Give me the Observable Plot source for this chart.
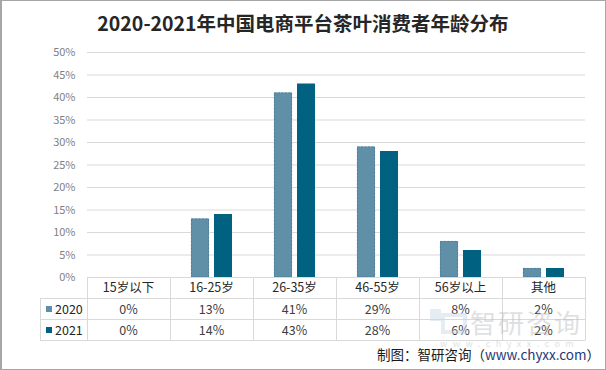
<!DOCTYPE html>
<html>
<head>
<meta charset="utf-8">
<script src="https://cdn.jsdelivr.net/npm/d3@7"></script>
<script src="https://cdn.jsdelivr.net/npm/@observablehq/plot@0.6"></script>
<style>
  html, body { margin: 0; padding: 0; background: #fff; }
  #wrap { position: relative; width: 606px; height: 370px; overflow: hidden; font-family: "Noto Sans CJK SC", "Noto Sans", sans-serif; }
  #border { position: absolute; left: 0; top: 0; width: 606px; height: 370px; box-sizing: border-box; border: 1px solid #a6a6a6; border-left-width: 2px; pointer-events: none; }
  #title { position: absolute; left: 0; top: 8px; width: 606px; text-align: center; font-size: 19.5px; font-weight: 700; color: #262626; line-height: 30px; letter-spacing: 0px; }
  #chart { position: absolute; left: 0; top: 0; }
</style>
</head>
<body>
<div id="wrap">
  <div id="chart"></div>
  <div id="title">2020-2021年中国电商平台茶叶消费者年龄分布</div>
  <div id="border"></div>
</div>
<script>
const categories = ["15岁以下", "16-25岁", "26-35岁", "46-55岁", "56岁以上", "其他"];
const years = ["2020", "2021"];
const values2020 = [0, 13, 41, 29, 8, 2];
const values2021 = [0, 14, 43, 28, 6, 2];
const yTicks = [0, 5, 10, 15, 20, 25, 30, 35, 40, 45, 50];
const colors = ["#6090a8", "#006181"];
const creditPrefix = "制图：智研咨询（";
const creditUrl = "www.chyxx.com";
const creditSuffix = "）";

const data = [];
categories.forEach((c, i) => {
  data.push({category: c, year: years[0], value: values2020[i]});
  data.push({category: c, year: years[1], value: values2021[i]});
});
const seriesValues = [values2020, values2021];

const font = '"Noto Sans CJK SC", "Noto Sans", sans-serif';

const chart = Plot.plot({
  width: 606,
  height: 370,
  marginTop: 52,
  marginBottom: 93,
  marginLeft: 86,
  marginRight: 20,
  style: {fontFamily: font, fontSize: "11px", background: "transparent", overflow: "visible"},
  fx: {domain: categories, padding: 0, axis: null},
  x: {domain: years, paddingInner: 0.2, paddingOuter: 0.85, axis: null},
  y: {domain: [0, 50]},
  color: {domain: years, range: colors},
  marks: [
    Plot.gridY(yTicks, {stroke: "#d9d9d9", strokeOpacity: 1, strokeWidth: 1}),
    Plot.axisY(yTicks, {tickFormat: d => d + "%", tickSize: 0, tickPadding: 12, fill: "#7f7f7f", fontSize: 11, label: null}),
    Plot.barY(data, {fx: "category", x: "year", y: "value", fill: "year"}),
    Plot.barY(data.filter(d => d.year === years[0]), {fx: "category", x: "year", y: "value", fill: "none", stroke: "#4d7a93", strokeWidth: 0.8, strokeDasharray: "2,1.5", inset: 0.4})
  ]
});
document.getElementById("chart").appendChild(chart);

// Data table under the chart, aligned with the fx band scale
const fx = chart.scale("fx");
const svg = d3.select(chart);
const g = svg.append("g").attr("font-family", font).attr("text-anchor", "start");
const bw = fx.bandwidth;
const x0 = fx.apply(categories[0]);
const x1 = fx.apply(categories[categories.length - 1]) + bw;
const legendLeft = 40;
const rows = [277, 298.5, 319.5, 340.5];
const lineColor = "#d9d9d9";

// horizontal lines
g.append("line").attr("x1", x0).attr("x2", x1).attr("y1", 277.5).attr("y2", 277.5).attr("stroke", lineColor);
[rows[1], rows[2], rows[3]].forEach(y => {
  g.append("line").attr("x1", legendLeft).attr("x2", x1).attr("y1", y).attr("y2", y).attr("stroke", lineColor);
});
// vertical lines
categories.forEach(c => {
  const x = Math.round(fx.apply(c)) + 0.5;
  g.append("line").attr("x1", x).attr("x2", x).attr("y1", 277).attr("y2", rows[3]).attr("stroke", lineColor);
});
g.append("line").attr("x1", Math.round(x1) + 0.5).attr("x2", Math.round(x1) + 0.5).attr("y1", 277).attr("y2", rows[3]).attr("stroke", lineColor);
g.append("line").attr("x1", legendLeft + 0.5).attr("x2", legendLeft + 0.5).attr("y1", rows[1]).attr("y2", rows[3]).attr("stroke", lineColor);

// header
categories.forEach(c => {
  g.append("text").attr("x", fx.apply(c) + bw / 2).attr("y", (rows[0] + rows[1]) / 2)
    .attr("dy", "0.36em").attr("text-anchor", "middle").attr("font-size", 12.5).attr("fill", "#262626").text(c);
});
// rows
years.forEach((yr, r) => {
  const yMid = (rows[r + 1] + rows[r + 2]) / 2;
  g.append("rect").attr("x", 46).attr("y", yMid - 3).attr("width", 6).attr("height", 6).attr("fill", colors[r]);
  g.append("text").attr("x", 55).attr("y", yMid).attr("dy", "0.36em").attr("text-anchor", "start").attr("font-size", 12.5).attr("fill", "#262626").text(yr);
  categories.forEach((c, i) => {
    g.append("text").attr("x", fx.apply(c) + bw / 2).attr("y", yMid).attr("dy", "0.36em")
      .attr("text-anchor", "middle").attr("font-size", 12.5).attr("fill", "#404040").text(seriesValues[r][i] + "%");
  });
});

// watermark
const wm = svg.append("g").attr("font-family", font).attr("text-anchor", "start").attr("opacity", 0.45);
wm.append("rect").attr("x", 430).attr("y", 309).attr("width", 11).attr("height", 12).attr("fill", "#c9d6e6");
wm.append("rect").attr("x", 443).attr("y", 315).attr("width", 22).attr("height", 17).attr("fill", "none").attr("stroke", "#c9d6e6").attr("stroke-width", 4);
wm.append("text").attr("x", 470).attr("y", 333).attr("font-size", 26).attr("fill", "#b8bcc2").attr("letter-spacing", 2).text("智研咨询");
wm.append("text").attr("x", 440).attr("y", 347).attr("font-size", 9).attr("fill", "#b8bcc2").attr("letter-spacing", 5.5).text("www.chyxx.com");

// credit
const credit = svg.append("text").attr("x", 600).attr("y", 355).attr("dy", "0.36em").attr("text-anchor", "end")
  .attr("font-family", font).attr("font-size", 13.5).attr("fill", "#1a1a1a");
credit.append("tspan").text(creditPrefix);
credit.append("tspan").attr("fill", "#1f3a78").text(creditUrl);
credit.append("tspan").text(creditSuffix);
</script>
</body>
</html>
